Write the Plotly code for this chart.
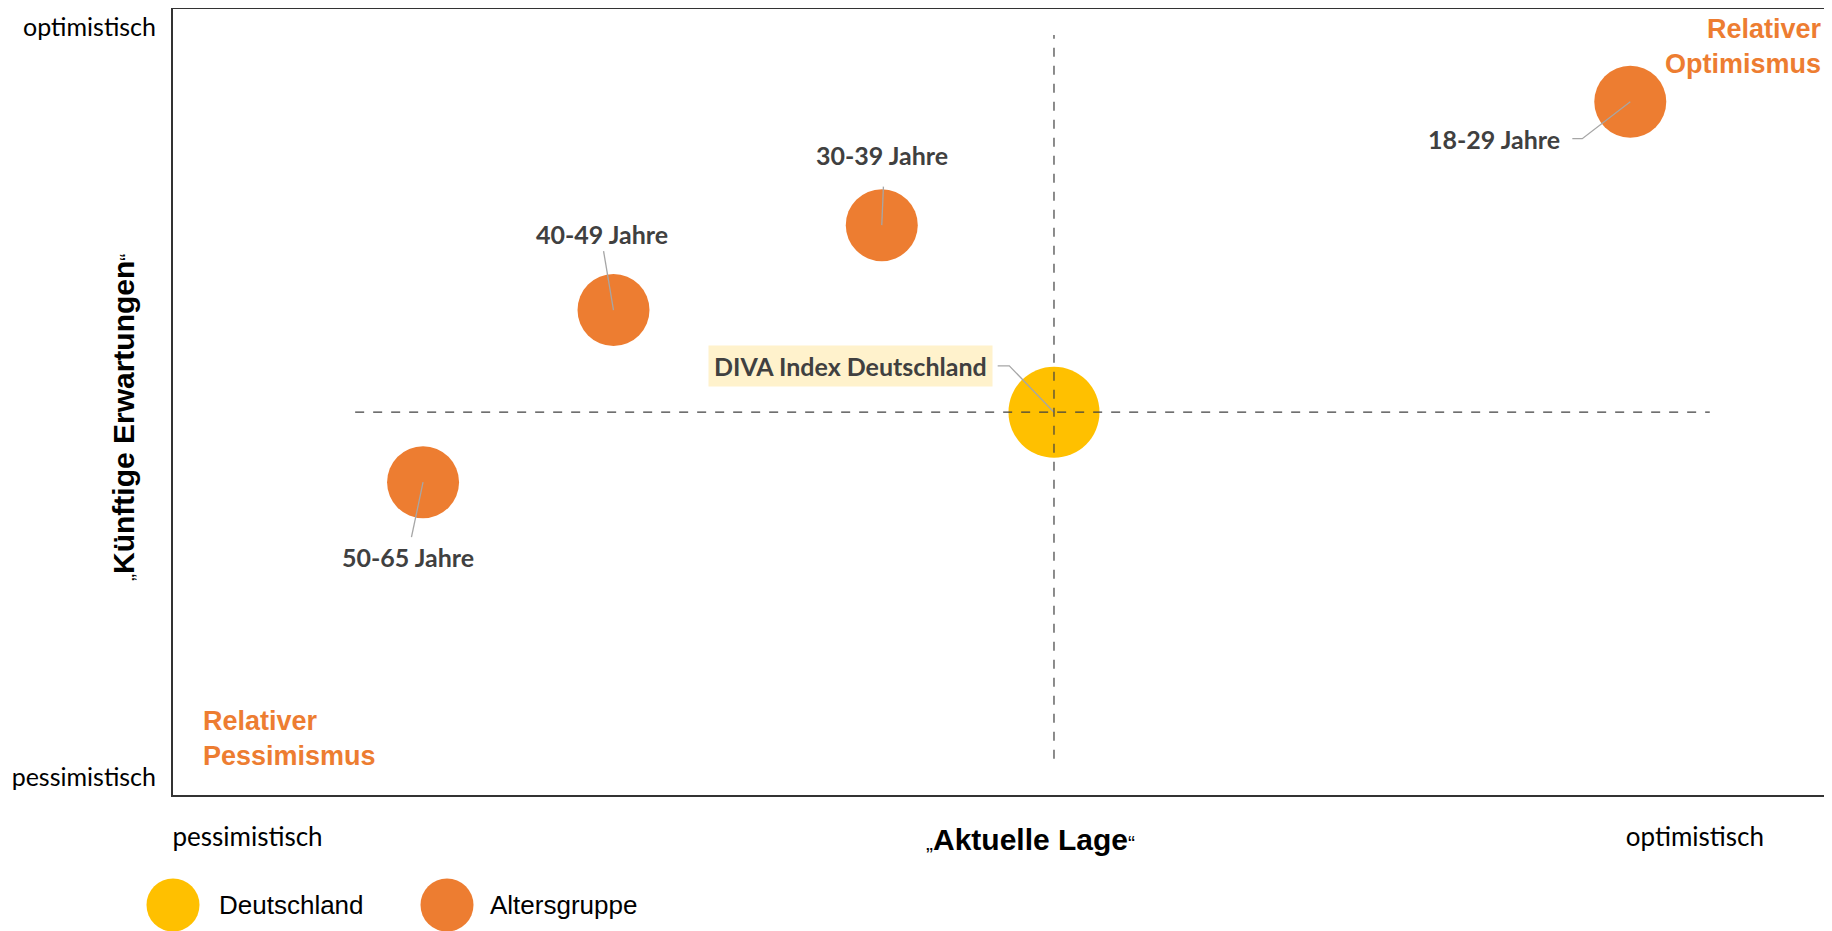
import plotly.graph_objects as go

# page is 1832x931; the html body adds an 8px margin
VW, VH, OFF = 1832, 931, 8
FW, FH = VW - OFF, VH - OFF


def pxx(x):
    return (x - OFF) / FW


def pxy(y):
    return 1 - (y - OFF) / FH


# ---------------- data ----------------
groups = ["18-29 Jahre", "30-39 Jahre", "40-49 Jahre", "50-65 Jahre"]
lage_groups = [88.0, 42.8, 26.6, 15.1]      # "Aktuelle Lage" (x)
erw_groups = [88.2, 72.5, 61.7, 39.8]       # "Künftige Erwartungen" (y)

index_name = "DIVA Index Deutschland"
lage_index = [53.2]
erw_index = [48.7]

legend_names = ["Deutschland", "Altersgruppe"]

x_tickvals = [4.5, 91.9]
x_ticktext = ["pessimistisch", "optimistisch"]
y_tickvals = [2.2, 97.7]
y_ticktext = ["pessimistisch", "optimistisch"]

# ---------------- styling / layout positions ----------------
ORANGE = "#ED7D31"
YELLOW = "#FFC000"
DARK = "#404040"
LEADER = "#A6A6A6"

# label anchors (data units) and leader elbow points
label_x = [83.9, 42.8, 25.9, 14.2]
label_y = [83.5, 81.4, 71.4, 30.3]
label_xanchor = ["right", "center", "center", "center"]
leader_start = [[(84.5, 83.5), (85.1, 83.5)],
                [(42.9, 77.4)],
                [(26.0, 69.2)],
                [(14.4, 32.8)]]
index_label_x, index_label_y = 40.9, 54.6
index_leader = [(49.8, 54.6), (50.5, 54.6)]

fig = go.Figure()

# bubbles
fig.add_trace(go.Scatter(
    x=lage_groups, y=erw_groups, mode="markers",
    marker=dict(size=72, color=ORANGE, line=dict(width=0)),
    showlegend=False, hoverinfo="skip", cliponaxis=False))
fig.add_trace(go.Scatter(
    x=lage_index, y=erw_index, mode="markers",
    marker=dict(size=91, color=YELLOW, line=dict(width=0)),
    showlegend=False, hoverinfo="skip", cliponaxis=False))

# leader lines
for pts, cx, cy in zip(leader_start, lage_groups, erw_groups):
    xs = [p[0] for p in pts] + [cx]
    ys = [p[1] for p in pts] + [cy]
    fig.add_trace(go.Scatter(x=xs, y=ys, mode="lines",
                             line=dict(color=LEADER, width=1.3),
                             showlegend=False, hoverinfo="skip"))
fig.add_trace(go.Scatter(x=[p[0] for p in index_leader] + [lage_index[0]],
                         y=[p[1] for p in index_leader] + [erw_index[0]],
                         mode="lines", line=dict(color=LEADER, width=1.3),
                         showlegend=False, hoverinfo="skip"))

# dashed cross through the index
fig.add_shape(type="line", xref="x", yref="y", x0=11.0, x1=92.8,
              y0=erw_index[0], y1=erw_index[0],
              line=dict(color=DARK, width=1.2, dash="dash"))
fig.add_shape(type="line", xref="x", yref="y", x0=lage_index[0], x1=lage_index[0],
              y0=4.6, y1=96.7,
              line=dict(color=DARK, width=1.2, dash="dash"))

annotations = []
lab_font = dict(family="Lato, Open Sans, sans-serif", size=25, color=DARK)
for name, lx, ly, xa in zip(groups, label_x, label_y, label_xanchor):
    annotations.append(dict(x=lx, y=ly, xref="x", yref="y", text="<b>%s</b>" % name,
                            showarrow=False, xanchor=xa, yanchor="middle", font=lab_font))
annotations.append(dict(x=index_label_x, y=index_label_y, xref="x", yref="y",
                        text="<b>%s</b>" % index_name, showarrow=False,
                        xanchor="center", yanchor="middle", font=lab_font,
                        bgcolor="#FFF2CC", borderpad=5))

# quadrant captions
cap_font = dict(family="Liberation Sans, Arial, sans-serif", size=27, color=ORANGE)
annotations.append(dict(x=pxx(1824), y=pxy(12), xref="paper", yref="paper",
                        text="<b>Relativer<br>Optimismus</b>", showarrow=False,
                        xanchor="right", yanchor="top", align="right", font=cap_font))
annotations.append(dict(x=pxx(201), y=pxy(704), xref="paper", yref="paper",
                        text="<b>Relativer<br>Pessimismus</b>", showarrow=False,
                        xanchor="left", yanchor="top", align="left", font=cap_font))

# axis titles
tit_font = dict(family="Liberation Sans, Arial, sans-serif", size=30, color="black")
q = '<span style="font-size:21px">%s</span>'
annotations.append(dict(x=pxx(1031), y=pxy(839), xref="paper", yref="paper",
                        text=q % "„" + "<b>Aktuelle Lage</b>" + q % "“",
                        showarrow=False, xanchor="center", yanchor="middle", font=tit_font))
annotations.append(dict(x=pxx(123), y=pxy(418), xref="paper", yref="paper",
                        text=q % "„" + "<b>Künftige Erwartungen</b>" + q % "“",
                        showarrow=False, xanchor="center", yanchor="middle",
                        textangle=-90, font=tit_font))

# custom legend (large circles) on a helper axis spanning the page width
leg_x = [173, 447]
leg_text_x = [217, 488]
fig.add_trace(go.Scatter(x=leg_x, y=[0.5, 0.5], xaxis="x2", yaxis="y2", mode="markers",
                         marker=dict(size=53, color=[YELLOW, ORANGE], line=dict(width=0)),
                         showlegend=False, hoverinfo="skip", cliponaxis=False))
for nm, tx in zip(legend_names, leg_text_x):
    annotations.append(dict(x=tx, y=0.5, xref="x2", yref="y2", text=nm, showarrow=False,
                            xanchor="left", yanchor="middle",
                            font=dict(family="Liberation Sans, Arial, sans-serif",
                                      size=26, color="black")))

leg_center = pxy(905)
tick_font = dict(family="Lato, Open Sans, sans-serif", size=26, color="black")
ytick_font = dict(family="Lato, Open Sans, sans-serif", size=25, color="black")
fig.update_layout(
    width=FW, height=FH,
    margin=dict(l=0, r=0, t=0, b=0),
    paper_bgcolor="white", plot_bgcolor="white",
    showlegend=False,
    annotations=annotations,
    xaxis=dict(domain=[pxx(173), pxx(1829)], range=[0, 100], showgrid=False, zeroline=False,
               showline=True, mirror=True, linecolor="#333333", linewidth=2,
               tickvals=x_tickvals, ticktext=x_ticktext, ticks="outside", ticklen=18,
               tickcolor="rgba(0,0,0,0)", tickfont=tick_font, automargin=False,
               ticklabeloverflow="allow", fixedrange=True),
    yaxis=dict(domain=[pxy(795), pxy(9)], range=[0, 100], showgrid=False,
               zeroline=False, showline=True, mirror=True, linecolor="#333333", linewidth=2,
               tickvals=y_tickvals, ticktext=y_ticktext, ticks="outside", ticklen=10,
               tickcolor="rgba(0,0,0,0)", tickfont=ytick_font, automargin=False,
               ticklabeloverflow="allow", fixedrange=True),
    xaxis2=dict(domain=[0, 1], range=[OFF, VW], visible=False, anchor="y2", fixedrange=True),
    yaxis2=dict(domain=[0, 2 * leg_center], range=[0, 1], visible=False, anchor="x2",
                fixedrange=True),
)

fig.write_html("out.html")
